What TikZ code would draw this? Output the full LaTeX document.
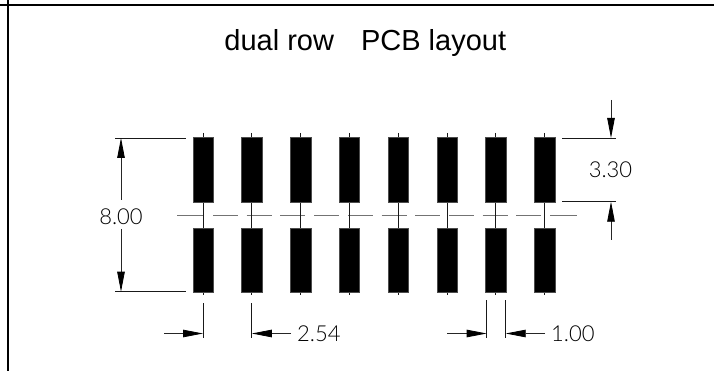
\documentclass[tikz,border=0pt]{standalone}
\usepackage{fontspec}
\setmainfont{Liberation Sans}
\newfontfamily\dimfont{Lato Light}
\usetikzlibrary{arrows.meta}
\tikzset{
  x=1pt,y=-1pt,
  frameline/.style={line width=2pt,black},
  pad/.style={fill=black,draw=black!70,line width=0.4pt},
  pin axis/.style={line width=0.8pt,black!90},
  centre line/.style={line width=0.9pt,black!55},
  ext/.style={line width=0.8pt,black!90},
  dimarrow/.style={line width=0.8pt,black!85,-{Triangle[length=20pt,width=7.5pt,black]}},
  dimtext/.style={font=\dimfont\fontsize{22}{22}\selectfont,text=black,inner sep=0pt},
  titletext/.style={font=\fontsize{29}{30}\selectfont,inner sep=0pt,anchor=base},
}
\begin{document}
\begin{tikzpicture}
\useasboundingbox (0,0) rectangle (714,371);
% frame
\draw[frameline] (0,5) -- (714,5);
\draw[frameline] (7.5,0) -- (7.5,371);
\node[titletext] (title) at (365.3,51) {dual row\hspace{27pt}PCB layout};
% centre line
\draw[centre line] (177,215) -- (204,215);
\foreach \x in {213,246.7,280.4,314.1,347.8,381.5,415.2,448.9,482.6,516.3}{
  \draw[centre line] (\x,215) -- (\x+25,215);
}
\draw[centre line] (550,215) -- (577,215);
% pads and pin axes
\foreach \i/\x in {1/203,2/251.8,3/300.6,4/349.4,5/398.2,6/447,7/495.8,8/544.6}{
  \draw[pin axis] (\x,133) -- (\x,295);
  \draw[pad] (\x-10.2,137.7) rectangle (\x+10.2,202);
  \draw[pad] (\x-10.2,228) rectangle (\x+10.2,292);
}
% 8.00
\draw[ext] (115,138) -- (186,138);
\draw[ext] (115,291.7) -- (186,291.7);
\node[dimtext] (d800) at (121,217) {8.00};
\draw[dimarrow] (121,200) -- (121,138);
\draw[dimarrow] (121,229) -- (121,291.7);
% 3.30
\draw[ext] (562,138) -- (616,138);
\draw[ext] (562,201.7) -- (616,201.7);
\node[dimtext] (d330) at (610.5,170) {3.30};
\draw[dimarrow] (611,100) -- (611,138);
\draw[dimarrow] (611,240) -- (611,201.7);
% 2.54
\draw[ext] (203,303) -- (203,338);
\draw[ext] (251.8,303) -- (251.8,338);
\draw[dimarrow] (164,333.5) -- (203,333.5);
\draw[dimarrow] (291,333.5) -- (251.8,333.5);
\node[dimtext,anchor=west] (d254) at (297,334) {2.54};
% 1.00
\draw[ext] (486.7,300) -- (486.7,338);
\draw[ext] (505.7,300) -- (505.7,338);
\draw[dimarrow] (447,333.5) -- (486.7,333.5);
\draw[dimarrow] (545,333.5) -- (505.7,333.5);
\node[dimtext,anchor=west] (d100) at (551,334) {1.00};
\end{tikzpicture}
\end{document}
